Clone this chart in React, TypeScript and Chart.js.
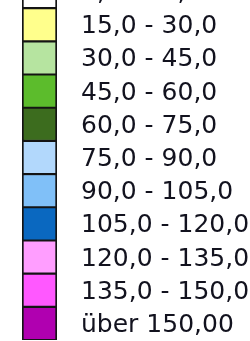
import React, { useEffect, useRef } from "react";
import { Chart, registerables } from "chart.js";

Chart.register(...registerables);

const classLabels: string[] = [
  "0,0 - 15,0",
  "15,0 - 30,0",
  "30,0 - 45,0",
  "45,0 - 60,0",
  "60,0 - 75,0",
  "75,0 - 90,0",
  "90,0 - 105,0",
  "105,0 - 120,0",
  "120,0 - 135,0",
  "135,0 - 150,0",
  "über 150,00",
];

const classColors: string[] = [
  "#FFFFFF",
  "#FFFF8C",
  "#B6E4A0",
  "#5CBC2C",
  "#3C6C1E",
  "#B2D8FC",
  "#80C0F8",
  "#0A68C0",
  "#FF9EFF",
  "#FF58FF",
  "#B000B0",
];

const swatchValues: number[] = [1, 1, 1, 1, 1, 1, 1, 1, 1, 1, 1];

export default function App() {
  const ref = useRef<HTMLCanvasElement | null>(null);

  useEffect(() => {
    if (!ref.current) return;
    const chart = new Chart(ref.current, {
      type: "bar",
      data: {
        labels: classLabels,
        datasets: [
          {
            data: swatchValues,
            backgroundColor: classColors,
            borderColor: "#141414",
            borderWidth: { top: 1.4, bottom: 1.4, left: 2, right: 2 },
            borderSkipped: false,
            barPercentage: 1,
            categoryPercentage: 1,
          },
        ],
      },
      options: {
        indexAxis: "y",
        responsive: false,
        animation: false,
        layout: { padding: { left: 22, top: 0, bottom: 1, right: 0 } },
        plugins: { legend: { display: false }, tooltip: { enabled: false } },
        scales: {
          x: { display: false, min: 0, max: 1 },
          y: {
            position: "right",
            grid: { display: false, drawTicks: false },
            border: { display: false },
            afterFit: (scale: any) => {
              scale.width = 193;
              scale.paddingTop = 0;
              scale.paddingBottom = 0;
            },
            ticks: {
              autoSkip: false,
              padding: 24,
              labelOffset: 2,
              color: "#12121e",
              font: { family: "'DejaVu Sans'", size: 25 },
            },
          },
        },
      },
    });
    return () => chart.destroy();
  }, []);

  return (
    <div style={{ position: "fixed", left: 0, top: -25, width: 250, height: 366 }}>
      <canvas ref={ref} width={250} height={366} style={{ display: "block" }} />
    </div>
  );
}
